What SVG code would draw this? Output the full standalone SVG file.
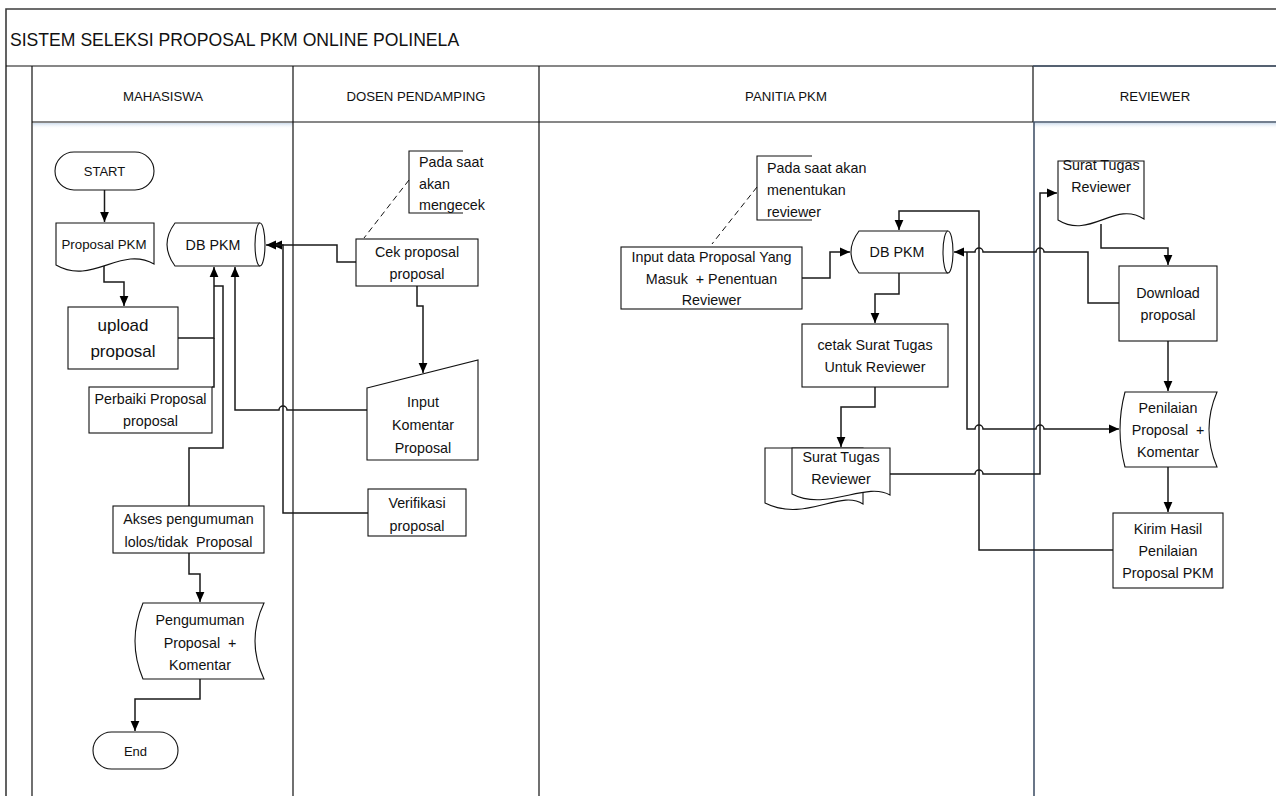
<svg xmlns="http://www.w3.org/2000/svg" width="1276" height="796" viewBox="0 0 1276 796">
  <defs>
    <marker id="arr" markerWidth="10" markerHeight="10" refX="10" refY="5" orient="auto" markerUnits="userSpaceOnUse">
      <path d="M0,0.6 L10,5 L0,9.4 Z" fill="#000"/>
    </marker>
    <linearGradient id="shade" x1="0" y1="0" x2="0" y2="1">
      <stop offset="0" stop-color="#c9d9ea" stop-opacity="0.9"/>
      <stop offset="1" stop-color="#ffffff" stop-opacity="0"/>
    </linearGradient>
    <style>
      .frame { fill: none; stroke: #3c3c3c; stroke-width: 1.6; }
      .lane { fill: none; stroke: #111; stroke-width: 1.2; }
      .lane-b { fill: none; stroke: #44546a; stroke-width: 1.6; }
      .shape { fill: #fff; stroke: #111; stroke-width: 1.1; }
      .note { fill: none; stroke: #111; stroke-width: 1.1; }
      .dash { fill: none; stroke: #111; stroke-width: 1; stroke-dasharray: 6 4; }
      .con { fill: none; stroke: #1a1a1a; stroke-width: 1.5; }
      .arrow { marker-end: url(#arr); }
      text { font-family: "Liberation Sans", Arial, sans-serif; fill: #111; white-space: pre; }
      .t { font-size: 14.3px; text-anchor: middle; }
      .tl { font-size: 14.3px; text-anchor: start; }
      .hd { font-size: 13.2px; text-anchor: middle; }
      .big { font-size: 17px; text-anchor: middle; }
      .title { font-size: 17.6px; }
    </style>
  </defs>

  <rect width="1276" height="796" fill="#fff"/>

  <!-- swimlane frame -->
  <g id="pool">
    <rect x="33" y="123" width="260" height="6" fill="url(#shade)"/>
    <rect x="1034" y="123" width="242" height="6" fill="url(#shade)"/>
    <path class="frame" d="M6,796 V9 H1276"/>
    <line class="lane" x1="6" y1="66" x2="1276" y2="66"/>
    <line class="lane" x1="32" y1="66" x2="32" y2="796"/>
    <line class="lane" x1="32" y1="122" x2="1033" y2="122"/>
    <line class="lane" x1="293" y1="66" x2="293" y2="796"/>
    <line class="lane" x1="539" y1="66" x2="539" y2="796"/>
    <line class="lane" x1="1033" y1="66" x2="1033" y2="122"/>
    <line class="lane-b" x1="1033" y1="66" x2="1276" y2="66"/>
    <line class="lane-b" x1="1033" y1="122" x2="1276" y2="122"/>
    <line class="lane-b" x1="1034" y1="122" x2="1034" y2="796"/>
    <text class="title" x="10" y="46">SISTEM SELEKSI PROPOSAL PKM ONLINE POLINELA</text>
    <text class="hd" x="163" y="101">MAHASISWA</text>
    <text class="hd" x="416" y="101">DOSEN PENDAMPING</text>
    <text class="hd" x="786" y="101">PANITIA PKM</text>
    <text class="hd" x="1155" y="101">REVIEWER</text>
  </g>

  <!-- connectors -->
  <g id="connectors">
    <path class="con arrow" d="M104.5,190 V222"/>
    <path class="con arrow" d="M104,266 V282 H124 V306"/>
    <path class="con arrow" d="M178,338 H214 V267"/>
    <path class="con" d="M212,387 H214 V338"/>
    <path class="con" d="M189,506 V448 H223 V286 H214"/>
    <path class="con arrow" d="M368,410 H287 A4,4 0 0 0 279,410 H235 V267"/>
    <path class="con arrow" d="M368,513 H283 V245 H272"/>
    <path class="con arrow" d="M356,262 H337 V245 H266"/>
    <path class="con arrow" d="M417,286 V306 H423 V373"/>
    <path class="con arrow" d="M189,553 V574 H200 V602"/>
    <path class="con arrow" d="M200,679 V699 H135 V731"/>

    <path class="con arrow" d="M802,278 H830 V252 H850"/>
    <path class="con arrow" d="M899,273 V294 H875 V323"/>
    <path class="con arrow" d="M875,387 V407 H841 V447"/>
    <path class="con arrow" d="M890,474 H975 A4,4 0 0 1 983,474 H1040 V193 H1057"/>
    <path class="con arrow" d="M1101,224 V248 H1168 V265"/>
    <path class="con arrow" d="M1119,303 H1088 V252 H1044 A4,4 0 0 0 1036,252 H983 A4,4 0 0 0 975,252 H954"/>
    <path class="con arrow" d="M967,252 V429 H975 A4,4 0 0 1 983,429 H1036 A4,4 0 0 1 1044,429 H1119"/>
    <path class="con arrow" d="M1168,341 V391"/>
    <path class="con arrow" d="M1168,467 V512"/>
    <path class="con arrow" d="M1113,550 H979 V211 H899 V230"/>

    <path class="dash" d="M409,180 L364,238"/>
    <path class="dash" d="M757,187 L712,244"/>
  </g>

  <!-- Mahasiswa -->
  <g id="start">
    <rect class="shape" x="55" y="152" width="99" height="38" rx="19"/>
    <text class="t" x="104.5" y="176" style="font-size:13px">START</text>
  </g>
  <g id="proposal-pkm">
    <path class="shape" d="M56,223 H154 V264 C121,245 92,286 56,265 Z"/>
    <text class="t" x="104" y="249" style="font-size:13.3px">Proposal PKM</text>
  </g>
  <g id="db-pkm-mhs">
    <path class="shape" d="M175,223 H260 A5,21.5 0 0 1 260,266 H175 Q159,244.5 175,223 Z"/>
    <path class="shape" d="M260,223 A5,21.5 0 0 0 260,266"/>
    <text class="t" x="213" y="250">DB PKM</text>
  </g>
  <g id="upload">
    <rect class="shape" x="68" y="307" width="110" height="62"/>
    <text class="big" x="123" y="331">upload</text>
    <text class="big" x="123" y="357">proposal</text>
  </g>
  <g id="perbaiki">
    <rect class="shape" x="89" y="387" width="123" height="46"/>
    <text class="t" x="150.5" y="404">Perbaiki Proposal</text>
    <text class="t" x="150.5" y="426">proposal</text>
  </g>
  <g id="akses">
    <rect class="shape" x="113" y="506" width="151" height="47"/>
    <text class="t" x="188.5" y="524">Akses pengumuman</text>
    <text class="t" x="188.5" y="547">lolos/tidak  Proposal</text>
  </g>
  <g id="pengumuman">
    <path class="shape" d="M143,603 H264 Q246,641 264,679 H143 Q127,641 143,603 Z"/>
    <text class="t" x="200" y="625">Pengumuman</text>
    <text class="t" x="200" y="648">Proposal  +</text>
    <text class="t" x="200" y="670">Komentar</text>
  </g>
  <g id="end">
    <rect class="shape" x="93" y="732" width="85" height="37" rx="18.5"/>
    <text class="t" x="135.5" y="756" style="font-size:13px">End</text>
  </g>

  <!-- Dosen Pendamping -->
  <g id="note-cek">
    <path class="note" d="M463,151 H409 V213 H463"/>
    <text class="tl" x="419" y="167">Pada saat</text>
    <text class="tl" x="419" y="189">akan</text>
    <text class="tl" x="419" y="210">mengecek</text>
  </g>
  <g id="cek">
    <rect class="shape" x="356" y="239" width="122" height="47"/>
    <text class="t" x="417" y="257">Cek proposal</text>
    <text class="t" x="417" y="279">proposal</text>
  </g>
  <g id="input-komentar">
    <path class="shape" d="M367,388 L478,360 V460 H367 Z"/>
    <text class="t" x="423" y="407">Input</text>
    <text class="t" x="423" y="430">Komentar</text>
    <text class="t" x="423" y="453">Proposal</text>
  </g>
  <g id="verifikasi">
    <rect class="shape" x="368" y="489" width="98" height="47"/>
    <text class="t" x="417" y="508">Verifikasi</text>
    <text class="t" x="417" y="531">proposal</text>
  </g>

  <!-- Panitia PKM -->
  <g id="note-reviewer">
    <path class="note" d="M812,156 H757 V220 H812"/>
    <text class="tl" x="767" y="173">Pada saat akan</text>
    <text class="tl" x="767" y="195">menentukan</text>
    <text class="tl" x="767" y="217">reviewer</text>
  </g>
  <g id="input-data">
    <rect class="shape" x="621" y="247" width="181" height="62"/>
    <text class="t" x="711.5" y="262">Input data Proposal Yang</text>
    <text class="t" x="711.5" y="284">Masuk  + Penentuan</text>
    <text class="t" x="711.5" y="305">Reviewer</text>
  </g>
  <g id="db-pkm-panitia">
    <path class="shape" d="M859,231 H948 A5,21 0 0 1 948,273 H859 Q843,252 859,231 Z"/>
    <path class="shape" d="M948,231 A5,21 0 0 0 948,273"/>
    <text class="t" x="897" y="257">DB PKM</text>
  </g>
  <g id="cetak">
    <rect class="shape" x="802" y="324" width="146" height="63"/>
    <text class="t" x="875" y="350">cetak Surat Tugas</text>
    <text class="t" x="875" y="372">Untuk Reviewer</text>
  </g>
  <g id="surat-tugas-panitia">
    <path class="shape" d="M765,448 H863 V504 C840,489 805,523 765,503 Z"/>
    <path class="shape" d="M792,448 H890 V495 C866,481 826,512 792,494 Z"/>
    <text class="t" x="841" y="462">Surat Tugas</text>
    <text class="t" x="841" y="484">Reviewer</text>
  </g>

  <!-- Reviewer -->
  <g id="surat-tugas-reviewer">
    <path class="shape" d="M1058,161 H1144 V219 C1115,200 1090,240 1058,220 Z"/>
    <text class="t" x="1101" y="170">Surat Tugas</text>
    <text class="t" x="1101" y="192">Reviewer</text>
  </g>
  <g id="download">
    <rect class="shape" x="1119" y="266" width="98" height="75"/>
    <text class="t" x="1168" y="298">Download</text>
    <text class="t" x="1168" y="320">proposal</text>
  </g>
  <g id="penilaian">
    <path class="shape" d="M1125,392 H1217 Q1201,429.5 1217,467 H1125 Q1115,429.5 1125,392 Z"/>
    <text class="t" x="1168" y="413">Penilaian</text>
    <text class="t" x="1168" y="435">Proposal  +</text>
    <text class="t" x="1168" y="457">Komentar</text>
  </g>
  <g id="kirim">
    <rect class="shape" x="1113" y="513" width="110" height="75"/>
    <text class="t" x="1168" y="534">Kirim Hasil</text>
    <text class="t" x="1168" y="556">Penilaian</text>
    <text class="t" x="1168" y="578">Proposal PKM</text>
  </g>
</svg>
